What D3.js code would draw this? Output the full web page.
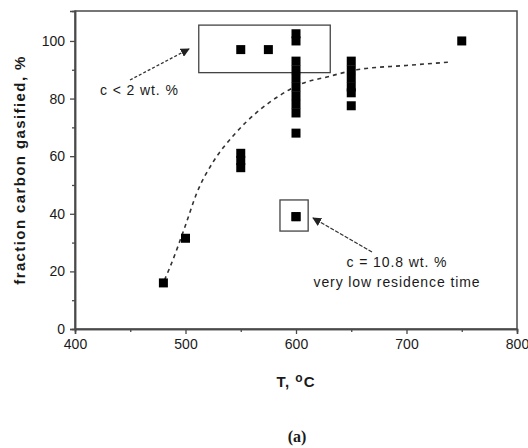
<!DOCTYPE html>
<html>
<head>
<meta charset="utf-8">
<script src="https://cdn.jsdelivr.net/npm/d3@7"></script>
<style>
  html, body { margin: 0; padding: 0; background: #fff; }
  svg { display: block; }
  text { font-family: "Liberation Sans", Arial, sans-serif; fill: #1a1a1a; }
</style>
</head>
<body>
<svg id="chart" width="528" height="448"></svg>
<script>
// Measured runs: temperature (°C) and fraction of carbon gasified (%)
const temperatures = [480, 500, 550, 550, 550, 550, 575,
  600, 600, 600, 600, 600, 600, 600, 600, 600, 600, 600,
  650, 650, 650, 650, 650, 650, 750, 600];
const gasified = [16, 31.5, 56, 58.5, 61, 97, 97,
  100, 102.5, 93, 90, 87, 84, 81, 78, 75, 68, 39,
  93, 90, 87, 84, 82, 77.5, 100, 39];

// Trend line drawn through the data
const trendT = [481, 486, 500, 510, 525, 543, 567, 585, 604, 628, 655, 700, 741];
const trendY = [17, 21.5, 36, 47, 58, 67, 76, 81, 85, 87.5, 90, 91.5, 92.7];

// Axis ticks
const xTicks = [400, 500, 600, 700, 800];
const xMinor = [450, 550, 650, 750];
const yTicks = [0, 20, 40, 60, 80, 100];
const yMinor = [10, 30, 50, 70, 90];

// Highlight boxes [tMin, tMax, yMin, yMax]
const boxLowC = [512, 631, 89, 105.5];
const boxHighC = [585.5, 611, 34, 44.8];

const svg = d3.select("#chart");
const plotL = 75, plotR = 517, plotT = 11, plotB = 329;

const x = d3.scaleLinear().domain([400, 800]).range([plotL, plotR]);
const y = d3.scaleLinear().domain([0, 110.4]).range([plotB, plotT]);

const axisColor = "#4a4a4a";

// frame
svg.append("rect")
  .attr("x", plotL).attr("y", plotT)
  .attr("width", plotR - plotL).attr("height", plotB - plotT)
  .attr("fill", "none").attr("stroke", axisColor).attr("stroke-width", 1.5);

// x axis
const gx = svg.append("g").attr("transform", `translate(0,${plotB})`)
  .call(d3.axisBottom(x).tickValues(xTicks).tickSize(5).tickPadding(5).tickFormat(d3.format("d")));
gx.append("g").call(d3.axisBottom(x).tickValues(xMinor).tickSize(3).tickFormat(""));
gx.selectAll(".domain").attr("stroke", axisColor).attr("stroke-width", 1.5);
gx.selectAll("line").attr("stroke", axisColor).attr("stroke-width", 1.3);
gx.selectAll("text").attr("font-size", 14).attr("fill", "#222")
  .style("font-family", "'Liberation Sans', Arial, sans-serif");

// y axis
const gy = svg.append("g").attr("transform", `translate(${plotL},0)`)
  .call(d3.axisLeft(y).tickValues(yTicks).tickSize(5).tickPadding(5).tickFormat(d3.format("d")));
gy.append("g").call(d3.axisLeft(y).tickValues(yMinor).tickSize(3).tickFormat(""));
gy.selectAll(".domain").attr("stroke", axisColor).attr("stroke-width", 1.5);
gy.selectAll("line").attr("stroke", axisColor).attr("stroke-width", 1.3);
gy.selectAll("text").attr("font-size", 14).attr("fill", "#222")
  .style("font-family", "'Liberation Sans', Arial, sans-serif");

// trend line
const trend = trendT.map((t, i) => [t, trendY[i]]);
svg.append("path")
  .datum(trend)
  .attr("d", d3.line().x(d => x(d[0])).y(d => y(d[1])).curve(d3.curveMonotoneX))
  .attr("fill", "none").attr("stroke", "#333").attr("stroke-width", 1.6)
  .attr("stroke-dasharray", "4,4");

// highlight boxes
[boxLowC, boxHighC].forEach(b => {
  svg.append("rect")
    .attr("x", x(b[0])).attr("y", y(b[3]))
    .attr("width", x(b[1]) - x(b[0])).attr("height", y(b[2]) - y(b[3]))
    .attr("fill", "none").attr("stroke", "#444").attr("stroke-width", 1.3);
});

// data points
const sz = 9;
svg.append("g").selectAll("rect")
  .data(temperatures.map((t, i) => [t, gasified[i]]))
  .join("rect")
  .attr("x", d => x(d[0]) - sz / 2).attr("y", d => y(d[1]) - sz / 2)
  .attr("width", sz).attr("height", sz)
  .attr("fill", "#000");

// arrows
const defs = svg.append("defs");
defs.append("marker")
  .attr("id", "head").attr("viewBox", "0 0 10 10")
  .attr("refX", 9).attr("refY", 5)
  .attr("markerWidth", 9).attr("markerHeight", 9)
  .attr("markerUnits", "userSpaceOnUse")
  .attr("orient", "auto")
  .append("path").attr("d", "M0,0 L10,5 L0,10 Z").attr("fill", "#222");

svg.append("line")
  .attr("x1", 130).attr("y1", 80).attr("x2", 189).attr("y2", 49)
  .attr("stroke", "#333").attr("stroke-width", 1.3)
  .attr("stroke-dasharray", "3,2").attr("marker-end", "url(#head)");

svg.append("line")
  .attr("x1", 372).attr("y1", 252).attr("x2", 313).attr("y2", 218)
  .attr("stroke", "#333").attr("stroke-width", 1.3)
  .attr("stroke-dasharray", "4,1.5").attr("marker-end", "url(#head)");

// annotations
svg.append("text").attr("x", 100).attr("y", 95)
  .attr("font-size", 14).attr("letter-spacing", 0.9).text("c < 2 wt. %");

svg.append("text").attr("x", 397).attr("y", 267).attr("text-anchor", "middle")
  .attr("font-size", 14).attr("letter-spacing", 0.9).text("c = 10.8 wt. %");
svg.append("text").attr("x", 397).attr("y", 287).attr("text-anchor", "middle")
  .attr("font-size", 14).attr("letter-spacing", 0.9).text("very low residence time");

// axis titles
svg.append("text")
  .attr("transform", `translate(25,${(plotT + plotB) / 2}) rotate(-90)`)
  .attr("text-anchor", "middle").attr("font-size", 15).attr("font-weight", "bold")
  .attr("letter-spacing", 1.4)
  .text("fraction carbon gasified, %");

const xt = svg.append("text").attr("x", 296).attr("y", 387)
  .attr("text-anchor", "middle").attr("font-size", 15).attr("font-weight", "bold")
  .attr("letter-spacing", 1);
xt.append("tspan").text("T, ");
xt.append("tspan").attr("dy", -5).attr("font-size", 12).text("o");
xt.append("tspan").attr("dy", 5).text("C");

svg.append("text").attr("x", 297).attr("y", 442)
  .attr("text-anchor", "middle").attr("font-size", 16).attr("font-weight", "bold")
  .style("font-family", "'Liberation Serif', 'Times New Roman', serif")
  .text("(a)");
</script>
</body>
</html>
